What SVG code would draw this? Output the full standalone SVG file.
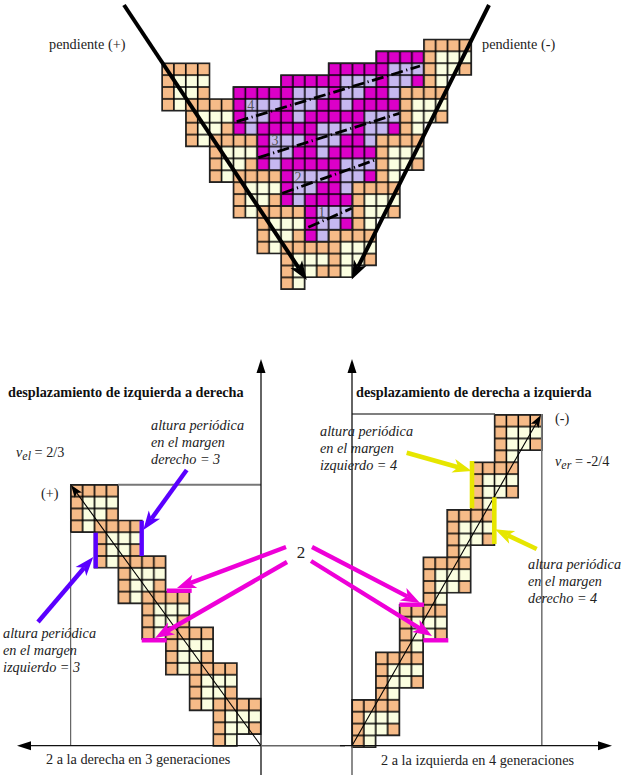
<svg xmlns="http://www.w3.org/2000/svg" xmlns:xlink="http://www.w3.org/1999/xlink" width="621" height="775" viewBox="0 0 621 775">
<style>
text{font-family:"Liberation Serif","Times New Roman",serif;fill:#222}
.r{font-size:14.25px}
.i{font-size:14.25px;font-style:italic}
.b{font-size:14.25px;font-weight:bold;fill:#111}
.n{font-size:14px;fill:#555}
.cell{stroke:#222;stroke-width:.12;stroke-linejoin:miter}
.grid{fill:none;stroke:#000;stroke-width:.13}
.axis{stroke:#111;stroke-width:1.3;fill:none}
.frame{stroke:#777;fill:none}
.big{stroke:#000;stroke-width:4;fill:none}
.thin{stroke:#000;stroke-width:1.1;fill:none}
.pur{stroke:#5a00ff;stroke-width:4.4;fill:none}
.mag{stroke:#ee00d8;stroke-width:4.4;fill:none}
.yel{stroke:#e6e600;stroke-width:4.6;fill:none}
.dash{stroke:#000;stroke-width:2.8;fill:none;stroke-dasharray:12 3.5 1.2 3.5}
</style>
<defs>
<path id="zero" d="M0 0h2v1h-2zM3 0h2v1h-2zM7 0h1v1h-1zM13 0h1v1h-1zM0 1h1v1h-1zM3 1h1v1h-1zM9 1h3v1h-3zM13 1h1v1h-1zM5 2h3v1h-3zM9 2h2v1h-2zM13 2h1v1h-1zM1 3h3v1h-3zM5 3h2v1h-2zM9 3h1v1h-1zM1 4h2v1h-2zM5 4h1v1h-1zM11 4h3v1h-3zM1 5h1v1h-1zM7 5h3v1h-3zM11 5h2v1h-2zM3 6h3v1h-3zM7 6h2v1h-2zM11 6h1v1h-1z"/>
<path id="lines" class="grid" d="M0 0V7M1 0V7M2 0V7M3 0V7M4 0V7M5 0V7M6 0V7M7 0V7M8 0V7M9 0V7M10 0V7M11 0V7M12 0V7M13 0V7M14 0V7M0 0H14M0 1H14M0 2H14M0 3H14M0 4H14M0 5H14M0 6H14M0 7H14"/>
<pattern id="ether" patternUnits="userSpaceOnUse" width="14" height="7">
<rect width="14" height="7" fill="#f6bb88"/><use xlink:href="#zero" fill="#fbfee0"/><use xlink:href="#lines"/>
</pattern>
<pattern id="inner" patternUnits="userSpaceOnUse" width="14" height="7">
<rect width="14" height="7" fill="#dc00c8"/><use xlink:href="#zero" fill="#c6b8f0"/><use xlink:href="#lines"/>
</pattern>
<marker id="hk" markerUnits="userSpaceOnUse" overflow="visible" markerWidth="20" markerHeight="20" orient="auto"><path d="M-5 -7L14 0L-5 7L0 0z" fill="#000"/></marker>
<marker id="hp" markerUnits="userSpaceOnUse" overflow="visible" markerWidth="20" markerHeight="20" orient="auto"><path d="M-5 -7L14 0L-5 7L0 0z" fill="#5a00ff"/></marker>
<marker id="hm" markerUnits="userSpaceOnUse" overflow="visible" markerWidth="20" markerHeight="20" orient="auto"><path d="M-5 -7L14 0L-5 7L0 0z" fill="#ee00d8"/></marker>
<marker id="hy" markerUnits="userSpaceOnUse" overflow="visible" markerWidth="20" markerHeight="20" orient="auto"><path d="M-5 -7L14 0L-5 7L0 0z" fill="#e6e600"/></marker>
<marker id="ht" markerUnits="userSpaceOnUse" overflow="visible" markerWidth="14" markerHeight="14" orient="auto"><path d="M-2.5 -4.5L10 0L-2.5 4.5L0 0z" fill="#000"/></marker>
<marker id="ha" markerUnits="userSpaceOnUse" overflow="visible" markerWidth="14" markerHeight="14" orient="auto"><path d="M-1 -4.5L13 0L-1 4.5z" fill="#000"/></marker>
</defs>

<g id="top-grid" transform="translate(162 39.4) scale(11.9)">
<polygon class="cell" fill="url(#ether)" points="22,0 26,0 26,3 24,3 24,7 22,7 22,11 20,11 20,15 18,15 18,19 16,19 16,20 12,20 12,21 10,21 10,18 8,18 8,15 6,15 6,12 4,12 4,9 2,9 2,6 0,6 0,2 4,2 4,5 6,5 6,4 10,4 10,3 14,3 14,2 18,2 18,1 22,1"/>
<polygon class="cell" fill="url(#inner)" points="18,1 22,1 22,4 20,4 20,8 18,8 18,12 16,12 16,16 14,16 14,17 12,17 12,14 10,14 10,11 8,11 8,8 6,8 6,4 10,4 10,3 14,3 14,2 18,2"/>
</g>
<g id="top-numbers">
<text class="n" x="250.7" y="110" text-anchor="middle">4</text>
<text class="n" x="275" y="145" text-anchor="middle">3</text>
<text class="n" x="298" y="181.5" text-anchor="middle">2</text>
<text class="n" x="321.7" y="216.7" text-anchor="middle">1</text>
</g>
<g id="top-dashes">
<line class="dash" x1="236.7" y1="121.7" x2="420" y2="66"/>
<line class="dash" x1="258.3" y1="157.7" x2="399.3" y2="113.3"/>
<line class="dash" x1="282.3" y1="193.3" x2="375" y2="160"/>
<line class="dash" x1="308.3" y1="227.3" x2="351.7" y2="208.3"/>
</g>
<g id="top-arrows">
<line class="big" x1="124" y1="5" x2="299" y2="268.3" marker-end="url(#hk)"/>
<line class="big" x1="489" y1="5" x2="358" y2="267" marker-end="url(#hk)"/>
</g>
<text class="r" x="49" y="49">pendiente (+)</text>
<text class="r" x="482" y="49">pendiente (-)</text>

<g id="left-panel">
<g transform="translate(70.7 460.94) scale(11.88)">
<polygon class="cell" fill="url(#ether)" points="0,2 4,2 4,5 6,5 6,8 8,8 8,11 10,11 10,14 12,14 12,17 14,17 14,20 16,20 16,23 14,23 14,24 12,24 12,21 10,21 10,18 8,18 8,15 6,15 6,12 4,12 4,9 2,9 2,6 0,6"/>
</g>
<line class="frame" stroke-width="2" x1="118" y1="484.7" x2="261" y2="484.7"/>
<line stroke="#444" x1="70.7" y1="532" x2="70.7" y2="746"/>
<line class="thin" x1="261" y1="745.7" x2="76.9" y2="493.1" marker-end="url(#ht)"/>
</g>
<g id="right-panel">
<g transform="translate(233.2 414.7) scale(11.88)">
<polygon class="cell" fill="url(#ether)" points="22,0 26,0 26,3 24,3 24,7 22,7 22,11 20,11 20,15 18,15 18,19 16,19 16,23 14,23 14,27 12,27 12,28 10,28 10,24 12,24 12,20 14,20 14,16 16,16 16,12 18,12 18,8 20,8 20,4 22,4"/>
</g>
<line stroke="#555" stroke-width="1.5" x1="352" y1="414" x2="495" y2="414"/>
<line class="frame" stroke-width="1.6" x1="541.8" y1="414" x2="541.8" y2="746"/>
<line class="thin" x1="352" y1="745.7" x2="536" y2="423.7" marker-end="url(#ht)"/>
</g>
<g id="axes">
<line class="axis" x1="261" y1="775" x2="261" y2="372" marker-end="url(#ha)"/>
<line class="axis" x1="352" y1="745.7" x2="352" y2="372" marker-end="url(#ha)"/>
<line stroke="#666" stroke-width="1.5" x1="352" y1="745.7" x2="352" y2="775"/>
<line class="axis" x1="261" y1="745.7" x2="30" y2="745.7" marker-end="url(#ha)"/>
<line stroke="#666" stroke-width="1.5" x1="261" y1="745.7" x2="345" y2="745.7"/>
<line class="axis" x1="340" y1="745.7" x2="599" y2="745.7" marker-end="url(#ha)"/>
</g>
<g id="purple">
<line class="pur" x1="95.7" y1="532.7" x2="95.7" y2="568.3"/>
<line class="pur" x1="141.7" y1="520.7" x2="141.7" y2="556"/>
<line class="pur" x1="186.7" y1="470" x2="151.5" y2="518.7" marker-end="url(#hp)"/>
<line class="pur" x1="38" y1="622" x2="84.2" y2="567.7" marker-end="url(#hp)"/>
</g>
<g id="magenta">
<line class="mag" x1="166.7" y1="590.7" x2="191.7" y2="590.7"/>
<line class="mag" x1="141.7" y1="640.3" x2="166.7" y2="640.3"/>
<line class="mag" x1="399.3" y1="604.7" x2="424" y2="604.7"/>
<line class="mag" x1="423.3" y1="640.3" x2="448.3" y2="640.3"/>
<line class="mag" x1="286" y1="547" x2="190.1" y2="583.1" marker-end="url(#hm)"/>
<line class="mag" x1="287" y1="562" x2="167.2" y2="631" marker-end="url(#hm)"/>
<line class="mag" x1="312" y1="547" x2="407.6" y2="596.6" marker-end="url(#hm)"/>
<line class="mag" x1="311" y1="561" x2="420.1" y2="628.6" marker-end="url(#hm)"/>
</g>
<g id="yellow">
<line class="yel" x1="472" y1="461" x2="472" y2="508.3"/>
<line class="yel" x1="494.3" y1="497.3" x2="494.3" y2="544"/>
<line class="yel" x1="406.7" y1="452.7" x2="458.2" y2="467.2" marker-end="url(#hy)"/>
<line class="yel" x1="536.7" y1="549" x2="507.7" y2="535.3" marker-end="url(#hy)"/>
</g>
<g id="labels">
<text class="b" x="8" y="397">desplazamiento de izquierda a derecha</text>
<text class="b" x="356" y="397">desplazamiento de derecha a izquierda</text>
<text class="i" x="151" y="430">altura periódica</text>
<text class="i" x="151" y="447">en el margen</text>
<text class="i" x="151" y="464">derecho = 3</text>
<text class="i" x="320" y="436">altura periódica</text>
<text class="i" x="320" y="453">en el margen</text>
<text class="i" x="320" y="470">izquierdo = 4</text>
<text class="i" x="528" y="569">altura periódica</text>
<text class="i" x="528" y="586">en el margen</text>
<text class="i" x="528" y="603">derecho = 4</text>
<text class="i" x="3" y="638">altura periódica</text>
<text class="i" x="3" y="655">en el margen</text>
<text class="i" x="3" y="672">izquierdo = 3</text>
<text class="i" x="16" y="457">v<tspan dy="3" font-size="12">el</tspan><tspan dy="-3" font-style="normal"> = 2/3</tspan></text>
<text class="i" x="555" y="466">v<tspan dy="3" font-size="12">er</tspan><tspan dy="-3" font-style="normal"> = -2/4</tspan></text>
<text class="r" x="41" y="498">(+)</text>
<text class="r" x="555" y="423">(-)</text>
<text x="301" y="558" text-anchor="middle" font-size="17">2</text>
<text font-size="14.25" x="46" y="764">2 a la derecha en 3 generaciones</text>
<text font-size="14.25" x="381" y="765">2 a la izquierda en 4 generaciones</text>
</g>
</svg>
